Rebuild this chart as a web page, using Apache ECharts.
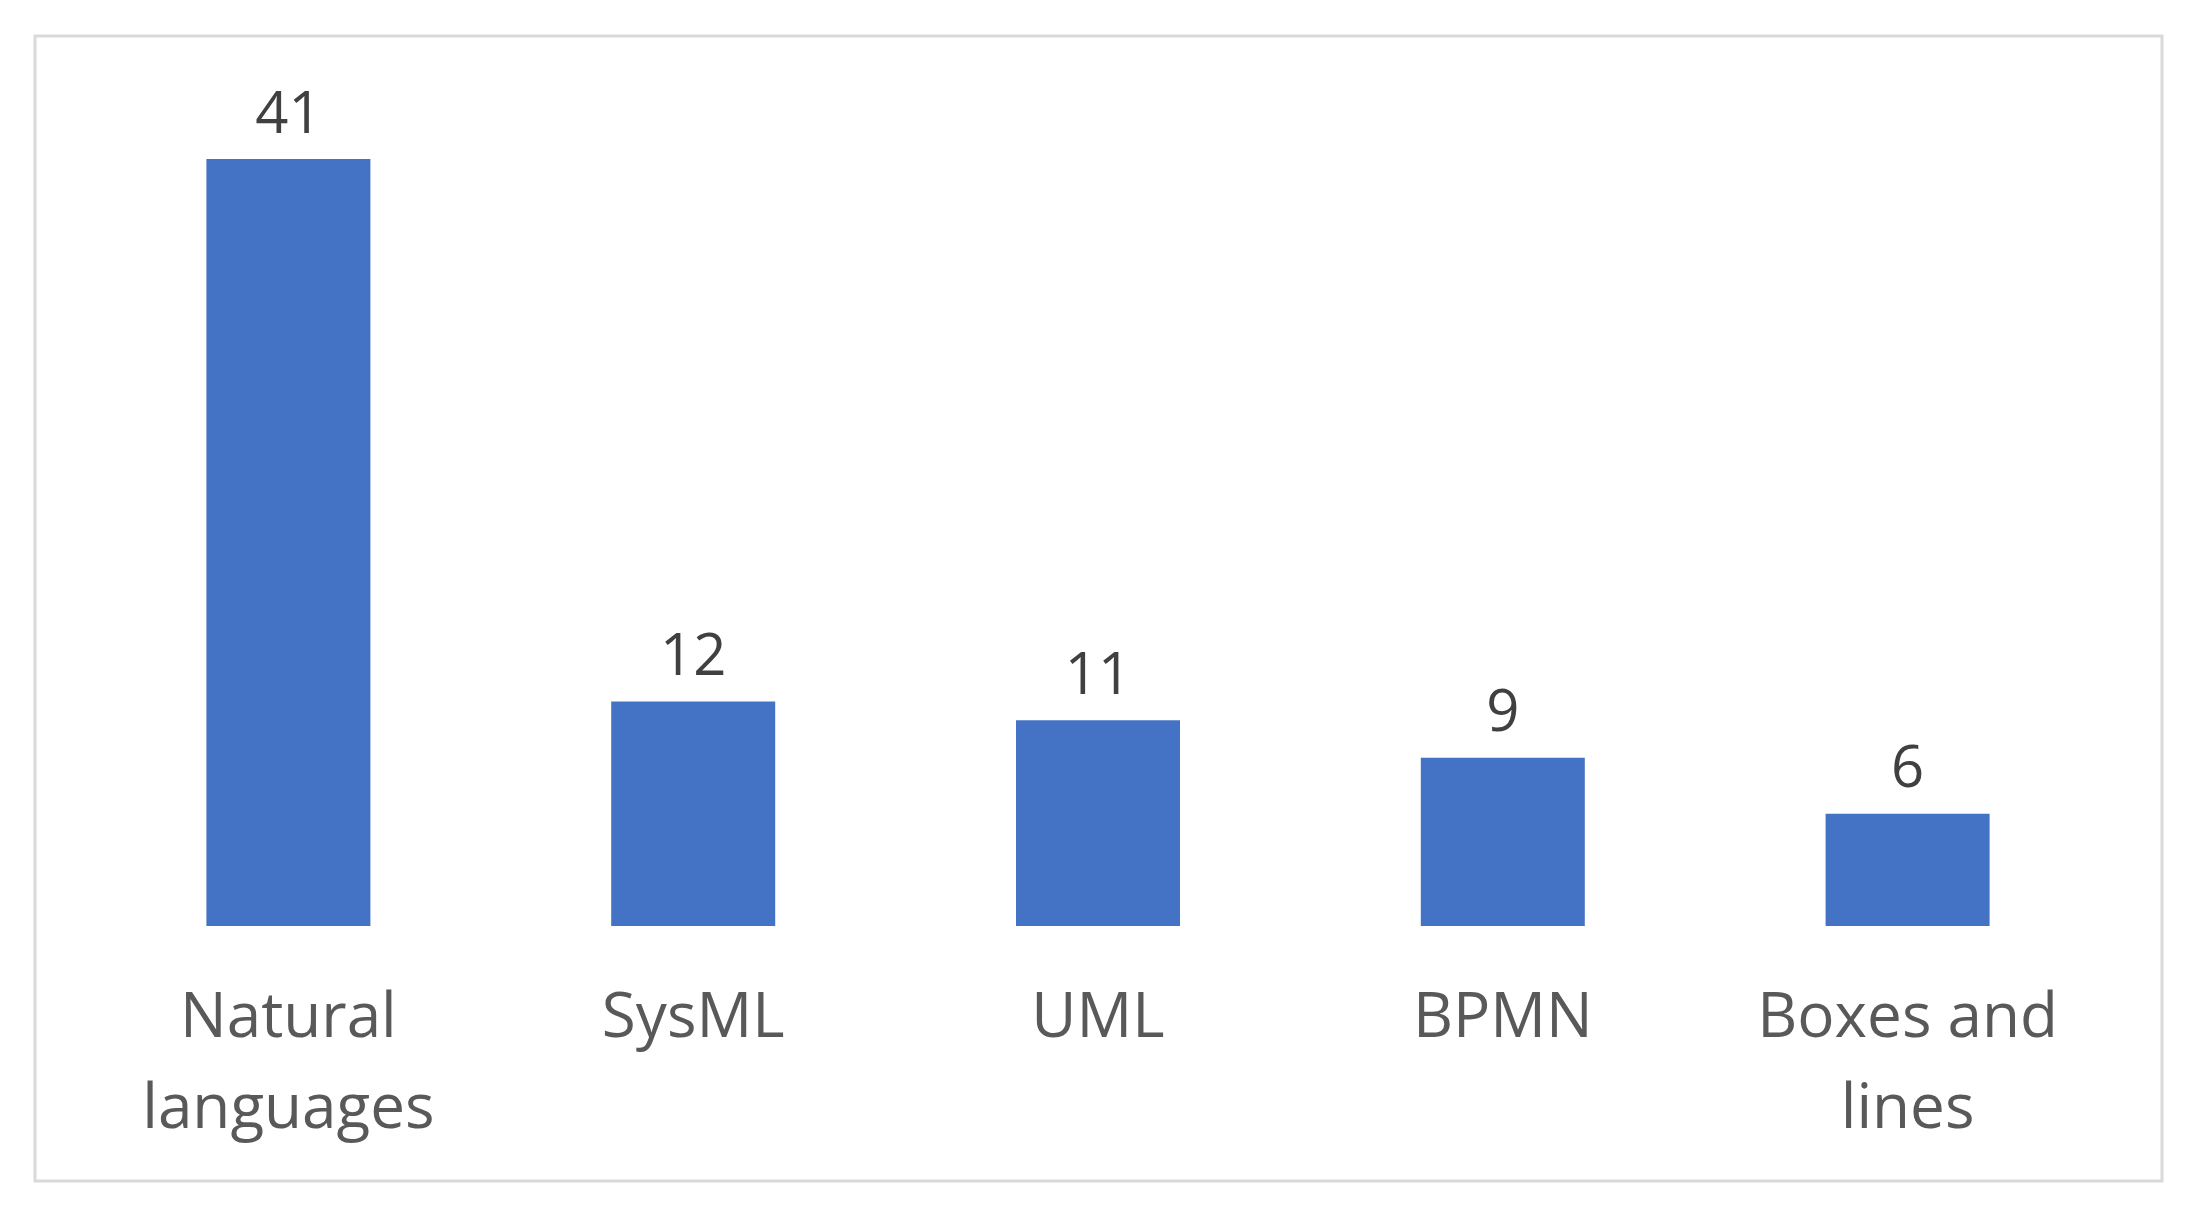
<!DOCTYPE html>
<html><head><meta charset="utf-8">
<script src="https://cdn.jsdelivr.net/npm/echarts@6/dist/echarts.min.js"></script>
<style>html,body{margin:0;padding:0;background:#fff}#c{width:2193px;height:1215px}</style>
</head><body><div id="c"></div>
<script>
const categories = ['Natural\nlanguages', 'SysML', 'UML', 'BPMN', 'Boxes and\nlines'];
const values = [41, 12, 11, 9, 6];
const chart = echarts.init(document.getElementById('c'));
chart.setOption({
  animation: false,
  graphic: [{type: 'rect', shape: {x: 35, y: 36, width: 2127, height: 1145},
    style: {fill: 'none', stroke: '#d9d9d9', lineWidth: 3}}],
  grid: {left: 86, right: 83, top: 159, bottom: 289},
  xAxis: {type: 'category', data: categories,
    axisLine: {show: false}, axisTick: {show: false},
    axisLabel: {color: '#595959', fontFamily: 'Open Sans', fontSize: 62, lineHeight: 91, margin: 48, interval: 0}},
  yAxis: {type: 'value', min: 0, max: 41, show: false, splitLine: {show: false}},
  series: [{type: 'bar', data: values, barWidth: 164,
    itemStyle: {color: '#4472C4'},
    label: {show: true, position: 'top', distance: 14, color: '#404040', fontFamily: 'Open Sans', fontSize: 58}}]
});
</script></body></html>
